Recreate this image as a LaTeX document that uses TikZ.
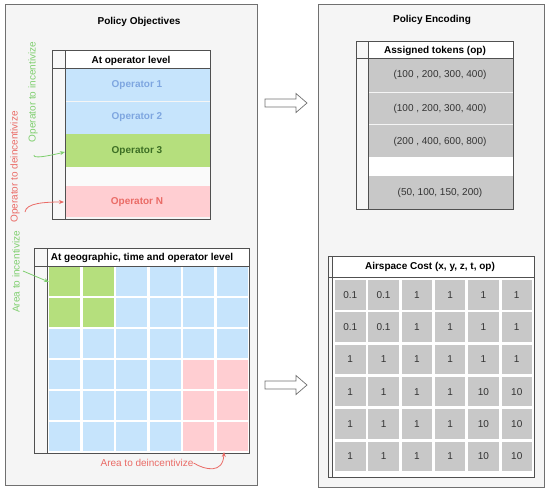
\documentclass[tikz,border=0pt]{standalone}
\usepackage{fontspec}
\setmainfont{Liberation Sans}
\usetikzlibrary{arrows.meta}
\definecolor{panelfill}{HTML}{F5F5F5}
\definecolor{panelline}{HTML}{707070}
\definecolor{tabline}{HTML}{505050}
\definecolor{cblue}{HTML}{C6E4FC}
\definecolor{tblue}{HTML}{7EA6E0}
\definecolor{cgreen}{HTML}{B5DF7D}
\definecolor{tgreen}{HTML}{3C6E24}
\definecolor{cred}{HTML}{FFCED2}
\definecolor{tred}{HTML}{EA6B66}
\definecolor{lgreen}{HTML}{7FCF6F}
\definecolor{cgray}{HTML}{C8C8C8}
\definecolor{tgray}{HTML}{333333}
\tikzset{
  panel/.style={draw=panelline, fill=panelfill, line width=0.8pt},
  tabframe/.style={draw=tabline, line width=0.8pt},
  txt/.style={font=\fontsize{10}{12}\selectfont, inner sep=0pt},
  btxt/.style={font=\fontsize{10}{12}\selectfont\bfseries, inner sep=0pt},
  cell/.style={inner sep=0pt, minimum width=31pt, minimum height=29pt, draw=none},
  gcell/.style={inner sep=0pt, minimum width=30.5pt, minimum height=29.5pt, draw=none, fill=cgray, text=tgray, font=\fontsize{10}{12}\selectfont},
  blockarrow/.style={draw=panelline, fill=white, line width=0.7pt},
  garrow/.style={draw=lgreen, line width=0.8pt, -{Stealth[length=5pt,width=4pt]}},
  rarrow/.style={draw=tred, line width=0.8pt, -{Stealth[length=5pt,width=4pt]}},
}
\begin{document}
\begin{tikzpicture}[x=1pt,y=-1pt]
\useasboundingbox (0,0) rectangle (550,493);
% panels
\draw[panel] (5,4) rectangle (257,485);
\draw[panel] (318,4) rectangle (544,487);
\node[btxt] (t1) at (139,22) {Policy Objectives};
\node[btxt] (t2) at (432,20) {Policy Encoding};

% ---------- operator table ----------
\fill[fill=white!97!black] (52,50) rectangle (65,219);
\fill[white] (65,50) rectangle (210,68);
\fill[cblue] (65,68) rectangle (210,100.5);
\fill[cblue] (65,101.5) rectangle (210,134);
\fill[cgreen] (65,134) rectangle (210,167);
\fill[white!98!black] (65,167) rectangle (210,186);
\fill[cred] (65,186) rectangle (210,217);
\draw[tabframe] (52,50) rectangle (210,219);
\draw[tabframe] (65,50) -- (65,219);
\draw[tabframe] (52,68) -- (210,68);
\node[btxt] (h1) at (131,61) {At operator level};
\node[btxt, text=tblue] (op1) at (137,85) {Operator 1};
\node[btxt, text=tblue] (op2) at (137,117.5) {Operator 2};
\node[btxt, text=tgreen] (op3) at (137,151) {Operator 3};
\node[btxt, text=tred] (opn) at (137,202) {Operator N};
\coordinate (op3in) at (65,152);
\coordinate (opnin) at (64,202);

\node[txt, text=lgreen, rotate=90] (lab1) at (33,92) {Operator to incentivize};
\node[txt, text=tred, rotate=90] (lab2) at (15,167) {Operator to deincentivize};
\coordinate (a1s) at (34,155);
\coordinate (a2s) at (25,212);
\draw[garrow] (a1s) .. controls (33,159) and (48,156) .. (op3in);
\draw[rarrow] (a2s) .. controls (26,203) and (45,202) .. (opnin);

% ---------- geographic grid ----------
\fill[white!97!black] (34,248) rectangle (47,453);
\fill[white] (47,248) rectangle (249,266);
\fill[white] (47,266) rectangle (249,453);
\foreach \r in {0,...,5}{
  \foreach \c in {0,...,5}{
    \pgfmathsetmacro{\cx}{49+33.5*\c+15.5}
    \pgfmathsetmacro{\cy}{267+31*\r+14.5}
    \node[cell, fill=cblue] (g\r\c) at (\cx,\cy) {};
  }
}
\foreach \r/\c in {0/0,0/1,1/0,1/1}{
  \node[cell, fill=cgreen] at (g\r\c) {};
}
\foreach \r/\c in {3/4,3/5,4/4,4/5,5/4,5/5}{
  \node[cell, fill=cred] at (g\r\c) {};
}
\draw[tabframe] (34,248) rectangle (249,453);
\draw[tabframe] (47,248) -- (47,453);
\draw[tabframe] (34,266) -- (249,266);
\node[btxt] (h2) at (142,258) {At geographic, time and operator level};

\node[txt, text=lgreen, rotate=90] (lab3) at (16,272) {Area to incentivize};
\node[txt, text=tred] (lab4) at (147,463) {Area to deincentivize};
\coordinate (a3s) at (23,271);
\coordinate (a3e) at (49,282);
\draw[garrow] (a3s) -- (a3e);
\coordinate (a4e) at (224,452);
\draw[rarrow] (lab4.east) .. controls (205,470) and (223,474) .. (a4e);

% ---------- block arrows ----------
\foreach \yy/\nm in {103/ba1,385/ba2}{
  \draw[blockarrow] (265,\yy-4) -- (296,\yy-4) -- (296,\yy-9.5) -- (307,\yy) -- (296,\yy+9.5) -- (296,\yy+4) -- (265,\yy+4) -- cycle;
}

% ---------- tokens table ----------
\fill[white!97!black] (356,41) rectangle (368,209);
\fill[white] (368,41) rectangle (513,58);
\fill[cgray] (368,58) rectangle (513,91.5);
\fill[cgray] (368,92.5) rectangle (513,123.5);
\fill[cgray] (368,124.5) rectangle (513,157);
\fill[white] (368,157) rectangle (513,176);
\fill[cgray] (368,176) rectangle (513,209);
\draw[tabframe] (356,41) rectangle (513,209);
\draw[tabframe] (368,41) -- (368,209);
\draw[tabframe] (356,58) -- (513,58);
\node[btxt] (h3) at (435,51) {Assigned tokens (op)};
\node[txt, text=tgray] (tk1) at (440,75) {(100 , 200, 300, 400)};
\node[txt, text=tgray] (tk2) at (440,109) {(100 , 200, 300, 400)};
\node[txt, text=tgray] (tk3) at (440,142) {(200 , 400, 600, 800)};
\node[txt, text=tgray] (tk4) at (440,193) {(50, 100, 150, 200)};

% ---------- airspace cost table ----------
\fill[white!97!black] (328,256) rectangle (333,477);
\fill[white] (333,256) rectangle (534,277);
\fill[white] (333,277) rectangle (534,477);
\def\rowA{{"0.1","0.1","1","1","1","1"}}
\foreach \r/\la/\lb/\lc/\ld/\le/\lf in {0/0.1/0.1/1/1/1/1,1/0.1/0.1/1/1/1/1,2/1/1/1/1/1/1,3/1/1/1/1/10/10,4/1/1/1/1/10/10,5/1/1/1/1/10/10}{
  \foreach \c/\v in {0/\la,1/\lb,2/\lc,3/\ld,4/\le,5/\lf}{
    \pgfmathsetmacro{\cx}{335+33.3*\c+15.25}
    \pgfmathsetmacro{\cy}{280+32.3*\r+14.75}
    \node[gcell] (k\r\c) at (\cx,\cy) {\v};
  }
}
\draw[tabframe] (328,256) rectangle (534,477);
\draw[tabframe] (332.5,256) -- (332.5,477);
\draw[tabframe] (328,277) -- (534,277);
\node[btxt] (h4) at (430,267) {Airspace Cost (x, y, z, t, op)};
\end{tikzpicture}
\end{document}
